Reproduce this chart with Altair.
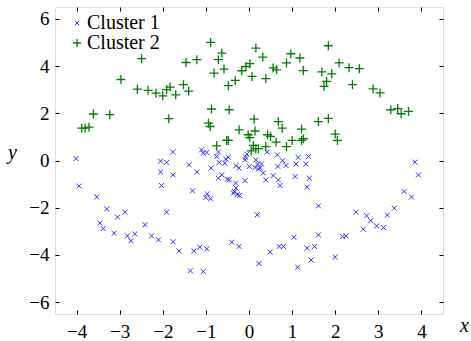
import altair as alt
import pandas as pd

c1_x = [-4.01, -3.94, -3.53, -3.30, -3.05, -2.88, -3.46, -3.38, -3.13, -2.82, -2.74, -2.65, -2.41, -2.26,
        -2.10, -1.76, -1.62, -1.28, -1.14, -0.98, -1.36, -1.06,
        -2.05, -1.91, -1.77, -2.05, -2.03, -1.76, -1.91, -1.39, -1.21, -1.31, -1.10, -1.06, -0.98, -0.88,
        -1.00, -0.97, -0.89, -0.75, -0.71, -0.69, -0.71, -0.63, -0.54, -0.48, -0.56, -0.50, -0.46, -0.30,
        -0.23, -0.31, -0.09, -0.30, -0.34, -0.36, -0.27, -0.22, -0.40, -0.23, -0.09, -0.08, -0.05, 0.01,
        0.16, 0.20, 0.14, 0.22, 0.26, 0.29, 0.33, 0.42, 0.66, 0.78, 0.86, 0.67, 0.56, 0.68, 0.72, 0.39,
        1.09, 1.14, 1.07, 1.32, 1.38, 1.40, 1.35, 1.61, 0.19, 0.23,
        3.85, 3.93, 3.60, 3.77, 3.37, 3.21, 2.48, 2.73, 2.82, 2.96, 3.12, 2.65, 1.61, 1.04, 2.17, 2.25,
        0.70, 0.80, 1.35, 1.52, 0.49, 1.13, 1.44, 2.00]
c1_y = [0.08, -1.08, -1.54, -2.05, -2.40, -2.19, -2.65, -2.88, -3.08, -3.19, -3.40, -3.11, -2.72, -3.19,
        -3.36, -3.44, -3.83, -3.83, -3.67, -3.74, -4.67, -4.70,
        -0.03, -0.08, 0.36, -0.49, -1.06, -0.61, -2.19, -0.18, -0.49, -1.28, 0.45, 0.31, 0.34, -0.32,
        -1.57, -1.41, -1.62, 0.17, 0.36, -0.08, -0.75, -0.61, 0.06, 0.13, -0.11, -0.79, -0.82, -0.22,
        -0.32, -0.96, -0.85, -1.17, -1.31, -1.38, -1.45, -1.48, -3.46, -3.64, 0.03, 0.14, 0.27, -0.25,
        0.03, -0.15, -0.30, -0.36, -0.32, -0.15, -0.53, 0.36, 0.24, -0.01, -0.21, -0.25, -0.64, -0.82, -1.06, -0.82,
        -0.15, 0.13, -0.68, -0.15, 0.17, -0.75, -1.13, -1.92, -2.30, -4.36,
        -0.07, -0.61, -1.31, -1.55, -2.02, -2.31, -2.19, -2.34, -2.55, -2.77, -2.84, -2.91, -3.15, -3.25, -3.22, -3.19,
        -3.64, -3.64, -3.71, -3.64, -3.88, -4.52, -4.22, -4.09]

c2_x = [-2.49, -2.97, -2.59, -2.34, -2.16, -2.00, -1.91, -1.83, -1.70, -1.52, -1.40, -1.46, -1.21, -0.89,
        -0.63, -0.71, -0.81, -0.58, -0.48, -0.32, -0.17, -0.07, 0.02, 0.07, 0.16, -3.61, -3.23, -3.88,
        -3.80, -3.71, -1.86, -0.87, -0.46, -0.94, -0.90, 0.12, 0.32, 0.97, 1.18, 0.87, 0.56, 0.64, 0.39,
        1.26, 1.84, 1.69, 1.92, 1.80, 1.74, 2.09, 2.32, 2.56, 2.40, 2.88, 3.04, 3.29, 3.45, 3.53, 3.70,
        0.68, 0.77, 1.22, 1.61, 1.84, -0.23, 0.14, -0.02, 0.02, 0.43, 0.50, -0.52, -0.48, -0.75, 0.10,
        0.16, 0.22, 0.05, 0.39, 0.63, 0.87, 1.00, 1.22, 1.26, 2.00, 2.05]
c2_y = [4.31, 3.43, 3.02, 2.97, 2.85, 2.74, 3.00, 3.11, 2.78, 3.21, 2.94, 4.15, 4.27, 5.00,
        4.55, 4.27, 3.70, 3.87, 3.17, 3.39, 3.80, 3.98, 4.10, 3.56, 4.76, 1.97, 1.94, 1.37,
        1.37, 1.41, 1.77, 2.18, 2.15, 1.58, 1.44, 1.75, 4.38, 4.52, 4.34, 4.13, 3.92, 3.84, 3.47,
        3.81, 4.86, 3.75, 3.67, 3.35, 3.14, 4.13, 3.93, 3.89, 3.21, 3.03, 2.86, 2.15, 2.20, 1.98, 2.08,
        1.65, 1.37, 1.33, 1.65, 1.78, 1.30, 1.25, 1.09, 0.97, 1.09, 1.02, 0.85, 0.85, 0.62, 0.64,
        0.50, 0.50, 0.41, 0.59, 0.78, 0.59, 0.85, 0.85, 0.92, 1.12, 0.85]

series = ["Cluster 1", "Cluster 2"]
x_ticks = [-4, -3, -2, -1, 0, 1, 2, 3, 4]
y_ticks = [-6, -4, -2, 0, 2, 4, 6]

df = pd.concat([
    pd.DataFrame({"x": c1_x, "y": c1_y, "cluster": series[0]}),
    pd.DataFrame({"x": c2_x, "y": c2_y, "cluster": series[1]}),
], ignore_index=True)

FONT = "Liberation Serif, Times New Roman, serif"
X_PATH = "M-0.55,-0.55L0.55,0.55M-0.55,0.55L0.55,-0.55"
PLUS_PATH = "M-1,0L1,0M0,-1L0,1"

xscale = alt.Scale(domain=[-4.5, 4.5], nice=False, zero=False)
yscale = alt.Scale(domain=[-6.5, 6.5], nice=False, zero=False)

common_axis = dict(offset=-4, tickSize=4, tickColor="black", tickWidth=1, domain=False, grid=False,
                   labelFont=FONT, labelFontSize=19, labelColor="black")

legend_kw = dict(orient="none", legendX=8, legendY=6, title=None,
                 labelFont=FONT, labelFontSize=20, labelColor="black",
                 labelOffset=0, symbolOffset=4, symbolSize=64, symbolStrokeWidth=1.2,
                 rowPadding=0, padding=0)

main = alt.Chart(df).mark_point(filled=False, size=81, opacity=1).encode(
    x=alt.X("x:Q", scale=xscale,
            axis=alt.Axis(orient="bottom", values=x_ticks, labelPadding=8, title="x",
                          titleFont=FONT, titleFontSize=20, titleFontStyle="italic", titleFontWeight="normal",
                          titleX=409, titleY=15, titleAngle=0, titleAlign="center", titleBaseline="middle",
                          titleColor="black", **common_axis)),
    y=alt.Y("y:Q", scale=yscale,
            axis=alt.Axis(orient="left", values=y_ticks, labelPadding=6, title="y",
                          titleFont=FONT, titleFontSize=20, titleFontStyle="italic", titleFontWeight="normal",
                          titleX=-47, titleY=145, titleAngle=0, titleAlign="center", titleBaseline="middle",
                          titleColor="black", **common_axis)),
    color=alt.Color("cluster:N", scale=alt.Scale(domain=series, range=["#1a1aff", "#008000"]),
                    legend=alt.Legend(**legend_kw)),
    shape=alt.Shape("cluster:N", scale=alt.Scale(domain=series, range=[X_PATH, PLUS_PATH]),
                    legend=alt.Legend(**legend_kw)),
    strokeWidth=alt.StrokeWidth("cluster:N", scale=alt.Scale(domain=series, range=[0.9, 1.3]),
                                legend=None),
)

mirror = alt.Chart(df).mark_point(opacity=0).encode(
    x=alt.X("x:Q", scale=xscale,
            axis=alt.Axis(orient="top", values=x_ticks, labels=False, title=None, **common_axis)),
    y=alt.Y("y:Q", scale=yscale,
            axis=alt.Axis(orient="right", values=y_ticks, labels=False, title=None, **common_axis)),
)

chart = alt.layer(main, mirror).resolve_axis(x="independent", y="independent").properties(
    width=388, height=307,
    autosize=alt.AutoSizeParams(type="none"),
    padding={"left": 55, "top": 7, "right": 28, "bottom": 27},
).configure_view(stroke="#808080", strokeWidth=2).configure(background="white")

chart.save("out.html", embed_options={"renderer": "svg", "actions": False})
